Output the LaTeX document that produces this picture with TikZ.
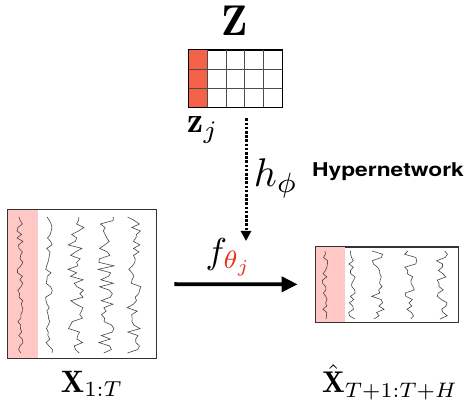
\documentclass[tikz,border=0pt]{standalone}
\usepackage{fontspec}
\usetikzlibrary{arrows.meta}
\newfontfamily\hyperfont{TeX Gyre Heros}
\definecolor{zred}{RGB}{245,98,74}
\definecolor{stripred}{RGB}{255,200,196}
\definecolor{thetared}{RGB}{238,45,28}
\definecolor{tracegray}{RGB}{70,70,70}
\begin{document}
\begin{tikzpicture}[x=1pt, y=1pt,
  panel/.style={draw=black!80, line width=0.8pt, inner sep=0pt},
  trace/.style={tracegray, line width=0.6pt},
  hyperarrow/.style={line width=3pt, dash pattern=on 2.6pt off 1.6pt, -{Triangle[length=10pt,width=10pt]}},
  bigarrow/.style={line width=3.8pt, -{Triangle[length=16pt,width=15pt]}}]
\useasboundingbox (0,0) rectangle (472,420);
% embedding table
\node[scale=4.3] (ztitle) at (235,399) {$\mathbf{Z}$};
\node[draw, line width=0.8pt, minimum width=93pt, minimum height=57pt, inner sep=0pt] (zgrid) at (235.5,341.5) {};
\fill[zred] (zgrid.south west) rectangle ([xshift=18.6pt]zgrid.north west);
\foreach \i in {1,...,4}
  \draw[black!70, line width=0.6pt] ([xshift=\i*18.6pt]zgrid.south west) -- ([xshift=\i*18.6pt]zgrid.north west);
\foreach \j in {1,2}
  \draw[black!70, line width=0.6pt] ([yshift=\j*19pt]zgrid.south west) -- ([yshift=\j*19pt]zgrid.south east);
\draw[line width=0.8pt] (zgrid.south west) rectangle (zgrid.north east);
\node[scale=3.6] (zj) at (203,290) {$\mathbf{z}_j$};
% hypernetwork
\coordinate (hend) at (246,179);
\draw[hyperarrow] ([yshift=-11pt]zgrid.south -| hend) -- (hend);
\node[scale=4] (hphi) at (276,242) {$h_\phi$};
\node (hyper) at (388,248) {\scalebox{1.2}[1]{\fontsize{19}{22}\selectfont\hyperfont\bfseries Hypernetwork}};
\node[scale=3.6] (fth) at (229,163) {$f_{\color{thetared}\theta_j}$};
% input and forecast
\node[panel, minimum width=148pt, minimum height=149pt] (xin) at (82,136) {};
\fill[stripred] (xin.south west) rectangle ([xshift=30pt]xin.north west);
\node[panel, minimum width=142pt, minimum height=75pt] (xout) at (387,135.5) {};
\fill[stripred] (xout.south west) rectangle ([xshift=29pt]xout.north west);
\pgfmathsetseed{7}
\foreach \xc/\amp in {20/3, 49/3.5, 76/8, 106/8, 134/7}
  \draw[trace] plot[domain=0:1, samples=40] ({\xc+\amp*rand}, {67+136*\x});
\foreach \xc/\amp in {325/3, 352/3.5, 378/7, 410/7, 442/6}
  \draw[trace] plot[domain=0:1, samples=22] ({\xc+\amp*rand}, {101+68*\x});
\draw[line width=0.8pt, black!80] (xin.south west) rectangle (xin.north east);
\draw[line width=0.8pt, black!80] (xout.south west) rectangle (xout.north east);
\draw[bigarrow, shorten <=18pt, shorten >=18pt] (xin) -- (xout);
\node[scale=3.1] (xinlabel) at (92,36) {$\mathbf{X}_{1{:}T}$};
\node[scale=3] (xoutlabel) at (390,38) {$\hat{\mathbf{X}}_{T{+}1{:}T{+}H}$};
\end{tikzpicture}
\end{document}
